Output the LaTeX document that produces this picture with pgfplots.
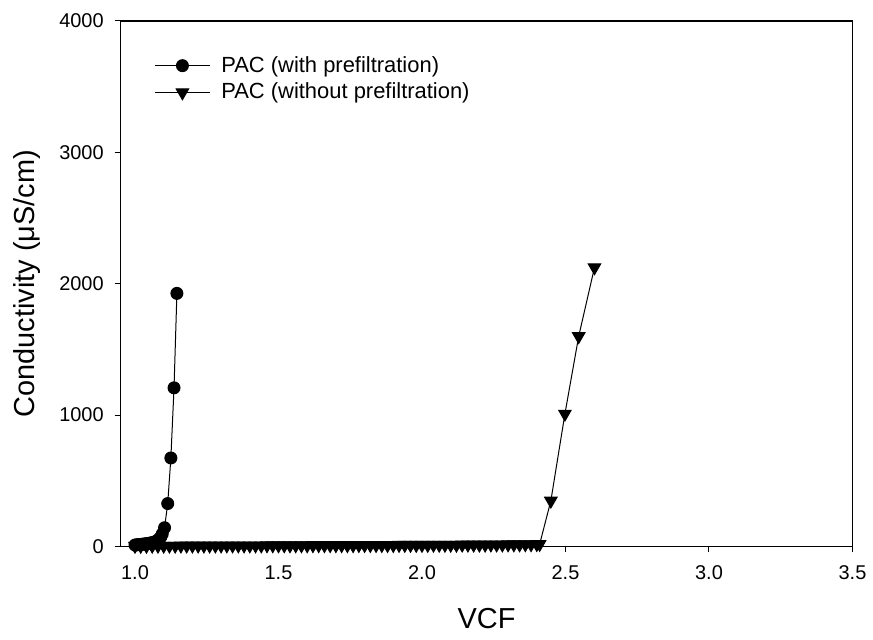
\documentclass[border=0pt]{standalone}
\usepackage{pgfplots}
\pgfplotsset{compat=1.18}
\usepackage{fontspec}
\setmainfont{Liberation Sans}
\begin{document}
\begin{tikzpicture}
\begin{axis}[
  scale only axis,
  width=367pt, height=263.5pt,
  xmin=0.95, xmax=3.5, ymin=0, ymax=4000,
  xtick={1.0,1.5,2.0,2.5,3.0,3.5},
  ytick={0,1000,2000,3000,4000},
  xticklabel style={yshift=-3pt, /pgf/number format/.cd, fixed, fixed zerofill, precision=1},
  yticklabel style={xshift=-2pt, /pgf/number format/.cd, fixed, 1000 sep={}},
  /pgf/number format/assume math mode=true,
  tick align=outside, xtick pos=bottom, ytick pos=left,
  major tick length=3pt,
  tick style={black, line width=0.5pt},
  axis line style={line width=0.6pt},
  ticklabel style={font=\fontsize{10}{12}\selectfont},
  xlabel={VCF}, ylabel={Conductivity (μS/cm)},
  label style={font=\fontsize{14.5}{17}\selectfont},
  xlabel style={at={(axis description cs:0.5,-0.137)}, anchor=center},
  ylabel style={at={(axis description cs:-0.128,0.5)}, anchor=center},
  legend style={at={(axis description cs:0.043,0.945)}, anchor=north west, draw=none, fill=none,
    font=\fontsize{11}{14}\selectfont, row sep=0pt, inner sep=1pt},
  legend cell align=left,
  legend image code/.code={\draw[mark repeat=2,mark phase=2] plot coordinates {(0pt,0pt) (13.75pt,0pt) (27.5pt,0pt)}; \path (31pt,0pt);},
  every axis plot/.append style={line width=0.5pt, black},
  clip=false,
]
\addplot[mark=*, mark size=3pt, mark options={fill=black}] coordinates {
(1.000,10)(1.005,12)(1.010,13)(1.015,14)(1.020,15)(1.025,16)(1.030,18)(1.035,19)(1.040,20)(1.045,22)
(1.050,24)(1.055,26)(1.060,28)(1.065,31)(1.070,35)(1.075,40)(1.080,48)(1.085,58)(1.090,72)(1.095,95)
(1.103,142)(1.114,326)(1.125,673)(1.136,1207)(1.146,1926)
};
\addlegendentry{PAC (with prefiltration)}
\addplot[mark=triangle*, mark size=3.6pt, mark options={fill=black, rotate=180}] coordinates {
(1.00,3)(1.02,3)(1.04,3)(1.06,4)(1.08,4)(1.10,4)(1.12,4)(1.14,4)(1.16,5)(1.18,5)
(1.20,5)(1.22,5)(1.24,5)(1.26,5)(1.28,5)(1.30,6)(1.32,6)(1.34,6)(1.36,6)(1.38,6)
(1.40,6)(1.42,6)(1.44,6)(1.46,7)(1.48,7)(1.50,7)(1.52,7)(1.54,7)(1.56,7)(1.58,7)
(1.60,7)(1.62,8)(1.64,8)(1.66,8)(1.68,8)(1.70,8)(1.72,8)(1.74,8)(1.76,8)(1.78,9)
(1.80,9)(1.82,9)(1.84,9)(1.86,9)(1.88,9)(1.90,9)(1.92,10)(1.94,10)(1.96,10)(1.98,10)
(2.00,10)(2.02,10)(2.04,11)(2.06,11)(2.08,11)(2.10,11)(2.12,11)(2.14,12)(2.16,12)(2.18,12)
(2.20,12)(2.22,12)(2.24,13)(2.26,13)(2.28,13)(2.30,14)(2.32,14)(2.34,14)(2.36,15)(2.38,15)
(2.40,16)(2.41,17)
(2.449,347)(2.498,1009)(2.546,1599)(2.601,2123)
};
\addlegendentry{PAC (without prefiltration)}
\end{axis}
\path (current axis.south west) ++(-60.5pt,-46.5pt) coordinate (bbsw);
\path (current axis.north east) ++(9pt,10.5pt) coordinate (bbne);
\useasboundingbox (bbsw) rectangle (bbne);
\end{tikzpicture}
\end{document}
